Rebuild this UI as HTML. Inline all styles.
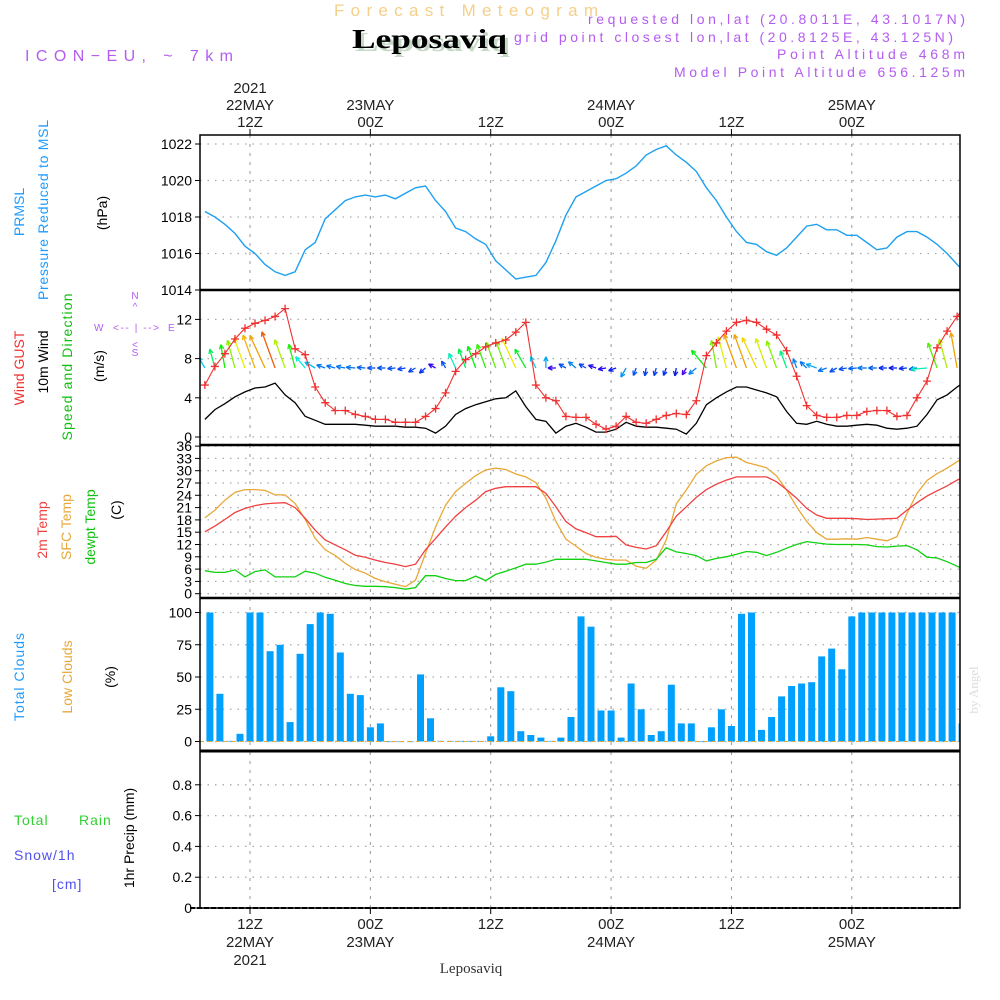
<!DOCTYPE html>
<html><head><meta charset="utf-8"><title>Forecast Meteogram - Leposaviq</title>
<style>
html,body{margin:0;padding:0;background:#fff;}
svg{display:block;font-family:"Liberation Sans",sans-serif;}
</style></head>
<body>
<svg id="chart" width="1000" height="1000" viewBox="0 0 1000 1000" xmlns="http://www.w3.org/2000/svg">
<rect x="0" y="0" width="1000" height="1000" fill="#fff"/>
<g id="hdr">
<text x="334" y="16" font-size="17" fill="#F5CF8A" textLength="264" lengthAdjust="spacing">Forecast Meteogram</text>
<text x="355" y="51" font-size="27" font-weight="bold" font-family="Liberation Serif,serif" fill="#C6D9C6" textLength="155" lengthAdjust="spacingAndGlyphs">Leposaviq</text>
<text x="352" y="48" font-size="27" font-weight="bold" font-family="Liberation Serif,serif" fill="#000" textLength="155" lengthAdjust="spacingAndGlyphs">Leposaviq</text>
<text x="588" y="24" font-size="14" fill="#B45CF0" textLength="377" lengthAdjust="spacing">requested lon,lat (20.8011E, 43.1017N)</text>
<text x="514" y="42" font-size="14" fill="#B45CF0" textLength="439" lengthAdjust="spacing">grid point closest lon,lat (20.8125E, 43.125N)</text>
<text x="777" y="59" font-size="14" fill="#B45CF0" textLength="188" lengthAdjust="spacing">Point Altitude 468m</text>
<text x="674" y="77" font-size="14" fill="#B45CF0" textLength="291" lengthAdjust="spacing">Model Point Altitude 656.125m</text>
<text x="25" y="61" font-size="16" fill="#B45CF0" textLength="208" lengthAdjust="spacing">ICON−EU, ~ 7km</text>
<text x="978" y="690" font-size="13" fill="#DDDDDD" font-family="Liberation Serif,serif" transform="rotate(-90 978 690)" text-anchor="middle">by Angel</text>
<text x="471" y="973" font-size="15" fill="#333" font-family="Liberation Serif,serif" text-anchor="middle">Leposaviq</text>
</g>
<g id="leftlabels" font-size="14">
<text transform="translate(24,212) rotate(-90)" text-anchor="middle" fill="#1E9BFF">PRMSL</text>
<text transform="translate(48,210) rotate(-90)" text-anchor="middle" fill="#1E9BFF" textLength="180" lengthAdjust="spacing">Pressure Reduced to MSL</text>
<text transform="translate(107,213) rotate(-90)" text-anchor="middle" fill="#000">(hPa)</text>
<text transform="translate(24,368) rotate(-90)" text-anchor="middle" fill="#F03030">Wind GUST</text>
<text transform="translate(48,362) rotate(-90)" text-anchor="middle" fill="#000">10m Wind</text>
<text transform="translate(72,367) rotate(-90)" text-anchor="middle" fill="#10C010" textLength="147" lengthAdjust="spacing">Speed and Direction</text>
<text transform="translate(104,366) rotate(-90)" text-anchor="middle" fill="#000">(m/s)</text>
<g fill="#B45CF0" font-size="10">
<text x="135" y="299" text-anchor="middle">N</text><text x="135" y="310" text-anchor="middle">^</text>
<text x="94" y="331">W</text><text x="113" y="331" textLength="46" lengthAdjust="spacing">&lt;-- | --&gt;</text><text x="168" y="331">E</text>
<text x="135" y="348" text-anchor="middle">&lt;</text><text x="135" y="356" text-anchor="middle">S</text>
</g>
<text transform="translate(47,530) rotate(-90)" text-anchor="middle" fill="#F04040">2m Temp</text>
<text transform="translate(71,527) rotate(-90)" text-anchor="middle" fill="#E8A838">SFC Temp</text>
<text transform="translate(95,527) rotate(-90)" text-anchor="middle" fill="#10C010">dewpt Temp</text>
<text transform="translate(121,510) rotate(-90)" text-anchor="middle" fill="#000">(C)</text>
<text transform="translate(24,677) rotate(-90)" text-anchor="middle" fill="#1E9BFF" textLength="88" lengthAdjust="spacing">Total Clouds</text>
<text transform="translate(72,677) rotate(-90)" text-anchor="middle" fill="#E8A838">Low Clouds</text>
<text transform="translate(115,677) rotate(-90)" text-anchor="middle" fill="#000">(%)</text>
<text x="14" y="825" fill="#30D030" letter-spacing="1">Total</text>
<text x="79" y="825" fill="#30D030" letter-spacing="1">Rain</text>
<text x="14" y="860" fill="#5050F0" letter-spacing="1">Snow/1h</text>
<text x="52" y="889" fill="#5050F0" letter-spacing="1">[cm]</text>
<text transform="translate(134,838) rotate(-90)" text-anchor="middle" fill="#000">1hr Precip (mm)</text>
</g>
<g id="plots"></g>
</svg>
<script>
// ---- data (hourly, line series start 07:30Z 22 May, bars start 08Z) ----
const pressure = [1018.3,1018.0,1017.6,1017.1,1016.4,1016.0,1015.4,1015.0,1014.8,1015.0,1016.2,1016.6,1017.9,1018.4,1018.9,1019.1,1019.2,1019.1,1019.2,1019.0,1019.3,1019.6,1019.7,1018.9,1018.3,1017.4,1017.2,1016.8,1016.5,1015.6,1015.1,1014.6,1014.7,1014.8,1015.5,1016.7,1018.1,1019.1,1019.4,1019.7,1020.0,1020.1,1020.4,1020.8,1021.4,1021.7,1021.9,1021.4,1021.0,1020.5,1019.6,1018.9,1018.0,1017.2,1016.6,1016.5,1016.1,1015.9,1016.3,1016.9,1017.5,1017.6,1017.3,1017.3,1017.0,1017.0,1016.6,1016.2,1016.3,1016.9,1017.2,1017.2,1016.9,1016.5,1016.0,1015.4,1014.9];
const gust = [5.3,7.2,8.5,10.0,11.1,11.6,11.9,12.3,13.1,9.0,8.4,5.1,3.5,2.7,2.7,2.3,2.1,1.8,1.8,1.5,1.5,1.5,2.1,2.9,4.5,6.7,7.9,8.5,9.2,9.6,9.9,10.7,11.7,5.3,4.0,3.7,2.1,2.0,2.0,1.3,0.8,1.1,2.1,1.5,1.4,1.8,2.2,2.4,2.3,3.7,8.3,9.6,10.8,11.7,11.9,11.7,11.0,10.4,8.8,6.2,3.2,2.2,2.0,2.0,2.2,2.2,2.6,2.7,2.7,2.1,2.2,4.0,5.7,9.1,10.8,12.3,13.6];
const wind10 = [1.8,2.8,3.4,4.1,4.6,5.0,5.1,5.5,4.3,3.5,2.1,1.7,1.3,1.3,1.3,1.3,1.2,1.1,1.1,1.1,1.0,1.0,0.9,0.4,1.1,2.3,2.9,3.3,3.6,3.9,4.0,4.7,3.1,1.8,1.6,0.4,1.1,1.4,1.0,0.5,0.5,0.8,1.5,1.1,1.0,1.0,0.9,0.8,0.3,1.4,3.3,4.0,4.6,5.1,5.1,4.8,4.5,4.1,2.6,1.4,1.3,1.6,1.3,1.1,1.1,1.2,1.3,1.2,0.9,0.8,0.9,1.1,2.3,3.8,4.3,5.1,5.8];
const windDir = [-30,-15,-10,-15,-20,-20,-25,-20,-20,-15,-40,-60,-70,-75,-80,-85,-85,-90,-90,-95,-100,-120,-130,-60,-30,-25,-20,-20,-20,-20,-20,-25,-30,-25,0,-90,-60,-50,-60,-70,-100,-110,-150,-160,-170,-165,-160,-170,-150,-130,-40,-10,-15,-20,-20,-25,-20,-20,-20,-20,-45,-70,-110,-120,-100,-95,-90,-90,-90,-90,-95,-100,-95,-20,-15,-10,-5];
const t2m = [15.1,16.5,18.1,19.8,20.8,21.5,21.9,22.1,22.2,21.0,18.4,15.5,13.1,11.9,10.7,9.4,8.9,8.2,7.6,7.2,6.6,7.2,10.7,13.5,16.3,18.9,21.0,22.8,24.9,25.7,26.1,26.1,26.1,26.1,24.5,21.2,17.6,15.8,14.9,13.9,13.9,14.0,11.9,11.3,10.9,11.7,15.1,18.9,21.2,23.5,25.4,26.7,27.7,28.5,28.5,28.5,28.5,27.3,25.4,23.3,20.8,19.2,18.4,18.4,18.4,18.3,18.1,18.2,18.3,18.4,20.4,22.2,23.8,25.1,26.3,27.7,28.7];
const sfcT = [18.5,20.4,22.8,24.7,25.4,25.4,25.2,24.1,24.1,22.0,18.1,13.5,10.7,9.3,7.4,5.9,5.0,3.7,2.9,2.3,1.7,3.3,9.8,16.3,21.6,24.9,26.9,28.8,30.2,30.6,30.3,29.2,28.5,27.1,23.3,17.6,13.3,11.6,9.8,8.9,8.4,8.2,8.2,6.7,6.2,8.2,13.1,21.9,25.3,29.1,31.2,32.4,33.2,33.3,32.0,31.4,30.7,28.7,25.3,21.2,17.6,14.9,13.3,13.3,13.4,13.3,13.7,13.3,12.9,13.9,19.6,24.5,27.6,29.3,30.6,32.2,33.6];
const dewpt = [5.6,5.2,5.2,5.8,4.1,5.4,5.8,4.1,4.1,4.1,5.5,5.0,4.0,3.3,2.5,2.0,1.8,1.8,1.7,1.5,1.1,1.5,4.4,4.4,3.7,3.2,3.2,4.3,3.2,4.7,5.5,6.3,7.2,7.2,7.7,8.4,8.4,8.4,8.4,8.0,7.6,7.2,7.2,7.6,7.6,8.4,11.2,10.2,9.8,9.3,8.0,8.6,9.0,9.6,10.3,10.1,9.3,10.1,11.1,12.0,12.7,12.4,12.1,12.0,12.0,12.0,11.9,11.5,11.4,11.6,11.7,10.7,8.9,8.7,7.8,6.7,5.6];
const totalClouds = [100,37,0.5,6,100,100,70,75,15,68,91,100,99,69,37,36,11,14,0,0,0,52,18,0.5,0.5,0.5,0.5,0.5,4,42,39,8,5,3,0.5,3,19,97,89,24,24,3,45,25,5,8,44,14,14,0,11,25,12,99,100,9,19,35,43,45,46,66,72,56,97,100,100,100,100,100,100,100,100,100,100,14];
const pressTicks = [1014,1016,1018,1020,1022];
const windTicks = [0,4,8,12];
const tempTicks = [0,3,6,9,12,15,18,21,24,27,30,33,36];
const cloudTicks = [0,25,50,75,100];
const precipTicks = [0,0.2,0.4,0.6,0.8];
const timeTickHours = [0,12,24,36,48,60];
const timeTickTop = [["2021","22MAY","12Z"],["","23MAY","00Z"],["","","12Z"],["","24MAY","00Z"],["","","12Z"],["","25MAY","00Z"]];
const timeTickBottom = [["12Z","22MAY","2021"],["00Z","23MAY",""],["12Z","",""],["00Z","24MAY",""],["12Z","",""],["00Z","25MAY",""]];
const lineStartHour = -4.5;
const barStartHour = -4;

// ---- layout ----
const NS = "http://www.w3.org/2000/svg";
const X0 = 200, X1 = 960;
const xOf = h => 250 + 10.03 * h;
const panels = {
  p: {top:135, bottom:290, y:v => 290 - (v-1014)*18.25},
  w: {top:290, bottom:445, y:v => 437 - v*9.8},
  t: {top:445, bottom:598, y:v => 593.7 - v*4.1},
  c: {top:598, bottom:750, y:v => 741.5 - v*1.29},
  r: {top:752, bottom:908, y:v => 908 - v*154}
};
const root = document.getElementById('plots');
function mk(tag, attrs, parent){
  const e = document.createElementNS(NS, tag);
  for (const k in attrs) e.setAttribute(k, attrs[k]);
  (parent||root).appendChild(e);
  return e;
}
const defs = mk('defs', {});
const cp = mk('clipPath', {id:'clipAll'}, defs);
mk('rect', {x:X0, y:130, width:X1-X0, height:780}, cp);

function drawPanel(key, ticks, fmt, name){
  const P = panels[key];
  const g = mk('g', {});
  
  
  ticks.forEach(v => {
    const y = P.y(v);
    const gl = mk('line', {x1:X0, x2:X1, y1:y, y2:y, stroke:'#aaa', 'stroke-width':1.3, 'stroke-dasharray':'1.5 6'}, g);
    
    
    mk('line', {x1:X0-5, x2:X0, y1:y, y2:y, stroke:'#000'}, g);
    const t = mk('text', {x:X0-8, y:y+5, 'font-size':14, 'text-anchor':'end', fill:'#000'}, g);
    t.textContent = fmt(v);
    
    
  });
  timeTickHours.forEach(h => {
    const x = xOf(h);
    mk('line', {x1:x, x2:x, y1:P.top, y2:P.bottom, stroke:'#999', 'stroke-width':1, 'stroke-dasharray':'3 6'}, g);
  });
  return g;
}
function borders(){
  const g = mk('g', {});
  
  
  mk('rect', {x:X0, y:135, width:X1-X0, height:773, fill:'none', stroke:'#000', 'stroke-width':1.5}, g);
  [290,445,598].forEach(y => mk('line', {x1:X0, x2:X1, y1:y, y2:y, stroke:'#000', 'stroke-width':2.5}, g));
  mk('line', {x1:X0, x2:X1, y1:751, y2:751, stroke:'#000', 'stroke-width':3}, g);
  mk('line', {x1:X0-10, x2:X1, y1:908, y2:908, stroke:'#000', 'stroke-width':2, 'stroke-dasharray':'5 2'}, g);
}
function linePath(arr, P, color, name, width){
  let d = '';
  arr.forEach((v,i) => {
    const x = xOf(lineStartHour + i), y = P.y(v);
    d += (i ? 'L' : 'M') + x.toFixed(1) + ' ' + y.toFixed(1);
  });
  const p = mk('path', {d:d, fill:'none', stroke:color, 'stroke-width':width||1.3, 'clip-path':'url(#clipAll)'});
  
  
  return p;
}

drawPanel('p', pressTicks, v => v, 'pressure');
drawPanel('w', windTicks, v => v, 'wind');
drawPanel('t', tempTicks, v => v, 'temperature');
drawPanel('c', cloudTicks, v => v, 'clouds');
drawPanel('r', precipTicks, v => v === 0 ? '0' : v.toFixed(1), 'precip');

const barG = mk('g', {'clip-path':'url(#clipAll)'});


totalClouds.forEach((v,i) => {
  const x = xOf(barStartHour + i);
  const y = panels.c.y(v), y0 = panels.c.y(0);
  const b = mk('rect', {x:(x-3.5).toFixed(1), y:y.toFixed(1), width:7, height:Math.max(0.6,(y0-y)).toFixed(1), fill:'#00A0FF'}, barG);
  
  
});
const lowLine = mk('line', {x1:X0, x2:X1, y1:panels.c.y(0), y2:panels.c.y(0), stroke:'#E8A838', 'stroke-width':1, 'stroke-dasharray':'4 4'});



linePath(pressure, panels.p, '#1EA0F0', 'pressure-line', 1.4);

const arrG = mk('g', {'clip-path':'url(#clipAll)'});


windDir.forEach((dir,i) => {
  const s = wind10[i];
  const hue = Math.max(0, Math.min(275, 270 - s*45));
  const col = 'hsl(' + hue + ',95%,48%)';
  const len = Math.max(8, s*7);
  const bx = xOf(lineStartHour + i), by = 368;
  const a = dir*Math.PI/180;
  const tx = bx + Math.sin(a)*len, ty = by - Math.cos(a)*len;
  const ag = mk('g', {stroke:col, 'stroke-width':1.3, fill:'none'}, arrG);
  
  
  mk('line', {x1:bx, y1:by, x2:tx.toFixed(1), y2:ty.toFixed(1)}, ag);
  [25,-25].forEach(da => {
    const b = a + Math.PI + da*Math.PI/180;
    mk('line', {x1:tx.toFixed(1), y1:ty.toFixed(1), x2:(tx+Math.sin(b)*5).toFixed(1), y2:(ty-Math.cos(b)*5).toFixed(1)}, ag);
  });
});
linePath(wind10, panels.w, '#000', 'wind-speed-line', 1.3);
linePath(gust, panels.w, '#F03030', 'gust-line', 1.1);
const gm = mk('g', {stroke:'#F03030', 'stroke-width':1.3, 'clip-path':'url(#clipAll)'});


gust.forEach((v,i) => {
  const x = xOf(lineStartHour + i), y = panels.w.y(v);
  const m = mk('path', {d:'M'+(x-4)+' '+y+'H'+(x+4)+'M'+x+' '+(y-4)+'V'+(y+4)}, gm);
  
  
});

linePath(sfcT, panels.t, '#E8A838', 'sfc-temp-line', 1.3);
linePath(t2m, panels.t, '#F04040', 't2m-line', 1.3);
linePath(dewpt, panels.t, '#10D010', 'dewpt-line', 1.3);

borders();

const ax = mk('g', {'font-size':15, fill:'#222', 'text-anchor':'middle'});


timeTickHours.forEach((h,k) => {
  const x = xOf(h);
  mk('line', {x1:x, x2:x, y1:129, y2:135, stroke:'#000'}, ax);
  mk('line', {x1:x, x2:x, y1:908, y2:914, stroke:'#000'}, ax);
  timeTickTop[k].forEach((s,j) => {
    if (!s) return;
    const t = mk('text', {x:x, y:93+j*17}, ax);
    t.textContent = s;
    
    
  });
  timeTickBottom[k].forEach((s,j) => {
    if (!s) return;
    const t = mk('text', {x:x, y:929+j*18}, ax);
    t.textContent = s;
    
    
  });
});
</script>
</body></html>
